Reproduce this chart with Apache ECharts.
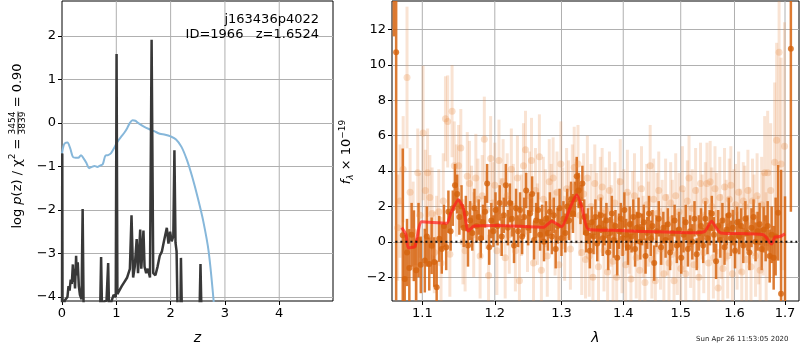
<!DOCTYPE html>
<html>
<head>
<meta charset="utf-8">
<script src="https://cdn.jsdelivr.net/npm/echarts@6/dist/echarts.min.js"></script>
<style>
  html, body { margin: 0; padding: 0; background: #fff; }
  #main { width: 800px; height: 350px; }
</style>
</head>
<body>
<div id="main"></div>
<script>
// p(z) panel
var zBlue = [0.0,0.03,0.06,0.1,0.15,0.2,0.25,0.3,0.35,0.4,0.45,0.5,0.55,0.6,0.65,0.7,0.75,0.8,0.85,0.9,0.95,1.0,1.05,1.1,1.15,1.2,1.25,1.3,1.35,1.4,1.5,1.6,1.7,1.8,1.9,2.0,2.1,2.2,2.3,2.4,2.5,2.6,2.7,2.8];
var lnpBlue = [-0.70,-0.52,-0.46,-0.45,-0.58,-0.78,-0.80,-0.80,-0.74,-0.82,-0.92,-1.04,-1.01,-0.99,-1.01,-0.98,-0.95,-0.75,-0.74,-0.70,-0.60,-0.48,-0.38,-0.30,-0.22,-0.12,0.0,0.06,0.05,0.0,-0.08,-0.14,-0.19,-0.25,-0.27,-0.31,-0.38,-0.55,-0.85,-1.25,-1.72,-2.25,-2.95,-4.2];

var zDark = [0.00,0.005,0.01,0.05,0.10,0.12,0.14,0.16,0.18,0.20,0.21,0.22,0.24,0.26,0.27,0.29,0.31,0.33,0.36,0.38,0.40,0.70,0.72,0.74,0.78,0.82,0.85,0.87,0.91,0.95,0.99,1.005,1.02,1.05,1.10,1.15,1.20,1.25,1.28,1.31,1.34,1.375,1.40,1.44,1.46,1.50,1.52,1.55,1.58,1.62,1.65,1.68,1.72,1.76,1.80,1.84,1.88,1.93,1.96,1.99,2.02,2.05,2.07,2.09,2.11,2.13,2.18,2.19,2.21,2.53,2.55,2.57];
var lnpDark = [-4.5,-0.70,-4.5,-4.08,-4.0,-3.75,-3.85,-3.60,-3.70,-3.25,-3.65,-3.35,-3.80,-3.05,-3.50,-3.20,-3.75,-3.95,-4.05,-1.98,-4.5,-4.5,-3.08,-4.5,-4.1,-4.08,-3.22,-4.5,-4.1,-3.95,-4.0,1.58,-3.93,-3.90,-3.75,-3.65,-3.55,-3.35,-2.12,-3.55,-3.30,-2.67,-3.45,-2.45,-3.35,-2.47,-3.30,-3.45,-3.35,-3.55,1.91,-3.45,-3.50,-3.30,-3.05,-2.95,-2.70,-2.41,-2.77,-2.50,-2.72,-2.60,-0.63,-2.75,-2.95,-4.5,-4.5,-3.10,-4.5,-4.5,-3.24,-4.5];

var zTicks = [0, 1, 2, 3, 4];
var lnpTicks = [-4, -3, -2, -1, 0, 1, 2];

// spectrum panel: wavelength (micron), flux (x 1e-19), error
var lamDark = [
    1.063,1.066,1.0745,1.077,1.080,1.083,1.086,1.089,1.092,1.095,
    1.098,1.1033,1.106,1.1092,1.1124,1.1159,1.1191,1.1226,1.126,1.129,
    1.132,1.135,1.138,1.141,1.144,1.147,1.150,1.153,1.156,1.159,
    1.162,1.165,1.168,1.171,1.174,1.177,1.180,1.183,1.186,1.189,
    1.192,1.195,1.198,1.201,1.204,1.207,1.210,1.213,1.216,1.219,
    1.222,1.225,1.228,1.231,1.234,1.237,1.240,1.243,1.246,1.249,
    1.252,1.255,1.258,1.261,1.264,1.267,1.270,1.273,1.276,1.279,
    1.282,1.285,1.288,1.291,1.294,1.297,1.300,1.303,1.306,1.309,
    1.312,1.315,1.318,1.321,1.324,1.327,1.330,1.333,1.336,1.339,
    1.342,1.345,1.348,1.351,1.354,1.357,1.360,1.363,1.366,1.369,
    1.372,1.375,1.378,1.381,1.384,1.387,1.390,1.393,1.396,1.399,
    1.402,1.405,1.408,1.411,1.414,1.417,1.420,1.423,1.426,1.429,
    1.432,1.435,1.438,1.441,1.444,1.447,1.450,1.453,1.457,1.461,
    1.465,1.469,1.473,1.477,1.481,1.485,1.489,1.493,1.497,1.501,
    1.505,1.509,1.513,1.517,1.521,1.525,1.529,1.533,1.537,1.541,
    1.545,1.549,1.553,1.557,1.561,1.565,1.569,1.573,1.577,1.581,
    1.585,1.589,1.593,1.597,1.601,1.605,1.609,1.613,1.617,1.621,
    1.625,1.629,1.633,1.637,1.641,1.645,1.649,1.653,1.657,1.661,
    1.665,1.669,1.673,1.677,1.681,1.686,1.692,1.700,1.712];
var fluxDark = [
    16.0,10.7,0.37,-2.1,-0.6,-1.48,0.4,-0.22,-1.6,0.1,
    -1.3,-1.06,0.3,-1.25,-0.22,-1.14,-2.56,0.17,-0.4,0.9,
    -0.3,1.7,0.6,1.9,3.2,2.7,1.4,2.0,0.8,1.6,
    -0.2,1.2,0.5,1.9,0.9,1.4,0.2,1.1,1.7,3.3,
    -0.3,1.2,0.6,1.8,0.9,2.2,0.3,1.5,3.2,0.8,
    2.2,1.3,-0.2,1.9,0.6,1.8,0.3,1.4,2.9,0.8,
    1.6,2.7,0.1,1.2,1.8,0.4,1.1,0.0,1.3,0.5,
    1.7,0.3,1.5,-0.4,0.9,1.9,0.2,1.3,0.5,2.0,
    1.2,2.4,1.6,2.4,3.7,2.9,2.1,3.3,1.4,0.5,
    0.9,-0.5,1.1,0.3,1.4,-0.1,0.8,1.5,0.2,0.7,
    1.2,-0.6,0.5,1.6,0.1,0.9,-0.9,0.6,1.3,0.2,
    1.8,0.4,-0.3,1.0,0.3,1.4,-0.4,0.8,1.5,0.0,
    0.7,1.1,-0.8,0.5,1.6,0.2,0.9,-1.2,0.6,1.3,
    -0.3,0.8,0.1,1.0,-0.6,0.5,1.2,-0.2,0.7,-0.9,
    0.4,1.1,-0.4,0.6,0.0,1.3,-0.7,0.5,0.9,-0.2,
    1.3,0.2,0.8,1.6,0.4,-1.1,0.9,0.1,1.2,-0.3,
    0.7,1.5,0.2,0.8,-0.5,1.1,0.3,0.9,-0.2,1.3,
    0.5,-0.6,0.8,1.4,0.0,0.6,1.0,-0.4,0.7,0.2,
    0.9,-0.8,0.4,-0.9,0.3,1.64,-2.93,-4.0,10.9];
var errDark = [
    4.4,14.0,4.9,2.5,1.9,2.2,1.8,2.0,1.7,2.1,
    1.6,1.8,1.7,1.5,1.6,1.4,1.5,1.3,1.4,1.2,
    1.3,1.2,1.1,1.0,1.2,1.1,1.0,1.2,1.1,1.0,
    1.2,1.1,1.0,1.1,0.9,1.0,1.1,1.0,0.9,1.1,
    1.0,1.0,0.9,1.0,1.1,1.0,1.1,1.0,1.2,1.0,
    1.1,1.0,1.0,1.1,0.9,1.0,1.0,1.1,1.0,1.0,
    1.1,1.0,1.1,1.0,1.0,0.9,1.0,1.1,1.0,1.0,
    1.1,1.0,1.0,1.1,1.0,1.1,1.0,1.0,1.1,1.0,
    1.1,1.0,1.1,1.0,1.1,1.0,1.1,1.0,1.0,1.1,
    1.0,1.0,0.9,1.0,1.0,1.0,0.9,1.0,1.0,0.9,
    1.0,1.0,0.9,1.0,1.0,0.9,1.0,1.0,0.9,1.0,
    1.0,0.9,1.0,1.0,0.9,1.0,1.0,0.9,1.0,1.0,
    0.9,1.0,1.0,0.9,1.0,1.0,0.9,1.0,0.9,1.0,
    1.0,0.9,1.0,0.9,1.0,1.0,0.9,1.0,1.0,0.9,
    1.0,1.0,1.0,0.9,1.0,1.0,0.9,1.0,1.0,1.0,
    1.0,0.9,1.0,1.0,1.0,1.0,0.9,1.0,1.0,1.0,
    0.9,1.0,1.0,1.0,1.0,0.9,1.0,1.0,1.0,1.0,
    1.0,1.0,1.1,1.0,1.1,1.1,1.2,1.2,1.3,1.3,
    1.4,1.5,1.6,1.8,2.2,2.7,7.0,6.57,9.2];

var lamLight = [
    1.068,1.071,1.075,1.080,1.084,1.088,1.091,1.094,1.097,1.101,
    1.104,1.107,1.110,1.113,1.116,1.119,1.122,1.125,1.128,1.131,
    1.134,1.137,1.140,1.143,1.146,1.149,1.152,1.155,1.158,1.161,
    1.164,1.167,1.170,1.173,1.176,1.179,1.182,1.185,1.188,1.191,
    1.194,1.197,1.200,1.203,1.206,1.209,1.212,1.215,1.218,1.221,
    1.224,1.227,1.230,1.233,1.236,1.239,1.242,1.245,1.248,1.251,
    1.254,1.257,1.260,1.263,1.266,1.269,1.272,1.275,1.278,1.281,
    1.284,1.287,1.290,1.293,1.296,1.299,1.302,1.305,1.308,1.311,
    1.314,1.317,1.320,1.323,1.326,1.329,1.332,1.335,1.338,1.341,
    1.344,1.347,1.350,1.353,1.356,1.359,1.362,1.365,1.368,1.371,
    1.374,1.377,1.380,1.383,1.386,1.389,1.392,1.395,1.398,1.401,
    1.404,1.407,1.410,1.413,1.416,1.419,1.422,1.425,1.428,1.431,
    1.434,1.437,1.440,1.443,1.446,1.449,1.452,1.455,1.458,1.461,
    1.464,1.467,1.470,1.473,1.476,1.479,1.482,1.485,1.488,1.491,
    1.494,1.497,1.500,1.503,1.506,1.509,1.512,1.515,1.518,1.521,
    1.524,1.527,1.530,1.533,1.536,1.539,1.542,1.545,1.548,1.551,
    1.554,1.557,1.560,1.563,1.566,1.569,1.572,1.575,1.578,1.581,
    1.584,1.587,1.590,1.593,1.596,1.599,1.602,1.605,1.608,1.611,
    1.614,1.617,1.620,1.623,1.626,1.629,1.632,1.635,1.638,1.641,
    1.644,1.647,1.650,1.653,1.656,1.659,1.662,1.665,1.671,1.679,
    1.683,1.688,1.692,1.699];
var fluxLight = [
    0.8,2.3,4.1,9.28,2.8,0.6,-1.5,3.9,1.5,6.15,
    2.9,3.9,2.5,1.6,-0.6,0.1,1.7,-1.2,2.3,6.95,
    6.8,-0.7,7.38,4.3,2.9,4.3,5.3,0.0,-0.5,3.7,
    3.3,2.0,0.4,3.6,2.4,-0.8,2.6,5.8,1.8,-1.9,
    4.7,2.2,3.2,-0.5,4.6,1.4,3.4,-0.9,2.6,0.4,
    4.1,2.0,-0.5,3.6,-2.2,1.5,4.3,5.2,0.6,2.6,
    4.6,-1.2,2.9,1.0,4.8,-1.6,2.4,1.9,-0.8,3.4,
    2.2,3.6,0.5,2.8,-1.3,4.4,1.9,0.2,3.0,2.4,
    -0.4,3.1,4.2,2.3,4.4,1.5,-0.6,2.7,-1.0,3.6,
    -0.8,2.0,-2.0,3.3,1.6,-1.4,2.5,3.1,-0.5,1.8,
    -1.7,2.9,0.9,-1.1,2.2,-2.0,1.3,3.4,-0.6,1.9,
    -1.3,2.8,0.5,-2.1,1.7,2.6,-0.9,1.2,-1.6,3.0,
    0.3,-2.3,2.1,1.0,4.3,-1.0,2.4,-2.2,1.6,2.9,
    -0.4,1.1,-1.8,2.5,0.4,-1.2,2.2,1.3,-2.2,2.6,
    -0.7,1.7,-1.5,3.0,0.6,-1.8,2.3,3.6,-0.3,1.9,
    -1.3,2.9,0.8,-2.0,3.3,1.4,-0.6,2.3,3.3,-1.2,
    3.4,2.0,-0.9,3.0,1.6,-2.6,2.5,0.3,-1.5,3.1,
    1.2,-0.8,2.4,3.2,-1.8,1.7,2.1,-0.5,2.8,0.6,
    -1.7,2.3,2.0,-1.0,2.9,0.9,-1.4,2.3,1.5,-0.8,
    2.6,0.1,-1.6,2.1,1.0,3.9,-0.4,3.9,2.9,4.5,
    5.74,10.7,4.4,5.4];
var errLight = [
    3.0,3.2,3.0,4.0,2.5,2.8,2.2,2.5,2.4,3.8,
    2.3,2.5,2.4,2.6,2.3,2.5,2.4,2.6,2.7,2.4,
    2.6,2.4,2.6,2.5,2.6,2.3,2.2,2.4,2.3,2.5,
    2.4,2.3,2.4,2.5,2.3,2.4,2.3,2.4,2.2,2.3,
    2.4,2.3,2.4,2.5,2.3,2.2,2.4,2.3,2.4,2.2,
    2.3,2.4,2.3,2.4,2.5,2.3,2.4,2.2,2.3,2.5,
    2.4,2.3,2.4,2.3,2.4,2.3,2.4,2.2,2.3,2.4,
    2.2,2.3,2.4,2.3,2.2,2.4,2.3,2.4,2.3,2.2,
    2.3,2.4,2.3,2.4,2.2,2.3,2.4,2.3,2.2,2.4,
    2.3,2.4,2.3,2.2,2.3,2.4,2.3,2.2,2.3,2.4,
    2.3,2.2,2.3,2.4,2.3,2.2,2.3,2.4,2.3,2.2,
    2.3,2.4,2.3,2.2,2.3,2.4,2.3,2.2,2.3,2.4,
    2.3,2.2,2.3,2.4,2.3,2.2,2.3,2.4,2.3,2.2,
    2.3,2.4,2.3,2.2,2.3,2.4,2.3,2.2,2.3,2.4,
    2.3,2.2,2.3,2.4,2.3,2.2,2.3,2.4,2.3,2.2,
    2.3,2.4,2.3,2.2,2.3,2.4,2.3,2.2,2.3,2.4,
    2.3,2.2,2.3,2.4,2.3,2.2,2.3,2.4,2.3,2.2,
    2.3,2.4,2.3,2.2,2.3,2.4,2.3,2.2,2.3,2.4,
    2.3,2.2,2.3,2.4,2.3,2.2,2.3,2.4,2.3,2.3,
    2.4,2.5,2.6,2.7,2.9,3.2,3.2,3.5,3.8,4.5,
    5.5,6.5,6.0,7.0];

var lamModel = [1.0731,1.0787,1.0817,1.0904,1.0993,1.1327,1.1381,1.1486,1.1555,1.1624,1.1705,1.2027,1.2719,1.2848,1.3003,1.3133,1.3239,1.3319,1.3425,1.3835,1.5290,1.5443,1.5568,1.5661,1.5737,1.6562,1.6730,1.6797,1.6898,1.7000];
var fluxModel = [0.8,0.4,-0.35,-0.25,1.13,1.05,1.6,2.38,1.9,0.61,0.9,0.93,0.82,1.17,0.85,1.9,2.66,2.0,0.7,0.65,0.52,0.6,1.17,0.75,0.5,0.4,-0.12,0.28,0.3,0.45];

var lamTicks = [1.1, 1.2, 1.3, 1.4, 1.5, 1.6, 1.7];
var fluxTicks = [-2, 0, 2, 4, 6, 8, 10, 12];
var lamZero = [1.065, 1.725];

var FONT = 'DejaVu Sans';

function minus(v) { return String(v).replace('-', '\u2212'); }

function textWidth(s, font) {
    var ctx = document.createElement('canvas').getContext('2d');
    ctx.font = font;
    return ctx.measureText(s).width;
}

// rotated y label with the stacked chi2 fraction
function pzLabel() {
    var big = '13px "' + FONT + '"', ital = 'italic 13px "' + FONT + '"', small = '9px "' + FONT + '"';
    var parts = [
        { t: 'log ', f: big, dy: 0 },
        { t: 'p', f: ital, dy: 0 },
        { t: '(z) / χ', f: big, dy: 0 },
        { t: '2', f: small, dy: -5 },
        { t: ' = ', f: big, dy: 0 },
        { frac: true },
        { t: ' = 0.90', f: big, dy: 0 }
    ];
    var children = [], x = 0;
    parts.forEach(function (p) {
        if (p.frac) {
            var w = textWidth('3454', small);
            children.push({ type: 'text', x: x + w / 2, y: -5, style: { text: '3454', font: small, fill: '#000', align: 'center', verticalAlign: 'middle' } });
            children.push({ type: 'line', shape: { x1: x, y1: 0, x2: x + w, y2: 0 }, style: { stroke: '#000', lineWidth: 0.8 } });
            children.push({ type: 'text', x: x + w / 2, y: 5, style: { text: '3839', font: small, fill: '#000', align: 'center', verticalAlign: 'middle' } });
            x += w;
        } else {
            children.push({ type: 'text', x: x, y: p.dy, style: { text: p.t, font: p.f, fill: '#000', align: 'left', verticalAlign: 'middle' } });
            x += textWidth(p.t, p.f);
        }
    });
    return { type: 'group', x: 18, y: 146 + x / 2, rotation: Math.PI / 2, z: 100, children: children };
}

// vertical grid line at each x tick, spanning the whole grid
function vGridLine(params, api) {
    var p = api.coord([api.value(0), api.value(1)]);
    var cs = params.coordSys;
    return {
        type: 'line', silent: true,
        shape: { x1: p[0], y1: cs.y, x2: p[0], y2: cs.y + cs.height },
        style: { stroke: '#b0b0b0', lineWidth: 1 }
    };
}

function errBars(width, color) {
    return function (params, api) {
        var x = api.value(0), y = api.value(1), e = api.value(2);
        var p1 = api.coord([x, y + e]);
        var p2 = api.coord([x, y - e]);
        var cs = params.coordSys;
        var shape = echarts.graphic.clipRectByRect(
            { x: p1[0] - width / 2, y: p1[1], width: width, height: p2[1] - p1[1] },
            { x: cs.x, y: cs.y, width: cs.width, height: cs.height });
        return shape && { type: 'rect', shape: shape, style: { fill: color } };
    };
}

function drawChart() {
    var myChart = echarts.init(document.getElementById('main'));

    var ln = function (l) { return Math.log(l); };
    var darkData = lamDark.map(function (l, i) { return [ln(l), fluxDark[i], errDark[i]]; });
    var lightData = lamLight.map(function (l, i) { return [ln(l), fluxLight[i], errLight[i]]; });
    var modelData = lamModel.map(function (l, i) { return [ln(l), fluxModel[i]]; });

    var axisText = { fontFamily: FONT, fontSize: 13, color: '#000' };
    var gridLine = { show: true, lineStyle: { color: '#b0b0b0', width: 1 } };
    var tick = { show: true, inside: false, length: 4, lineStyle: { color: '#000' } };
    var noLine = { show: false, onZero: false };

    option = {
        animation: false,
        backgroundColor: '#fff',
        textStyle: { fontFamily: FONT },
        grid: [
            { left: 62, top: 1, width: 271, height: 303, show: true, borderColor: '#000', borderWidth: 1, backgroundColor: 'transparent' },
            { left: 392, top: 1, width: 407, height: 303, show: true, borderColor: '#000', borderWidth: 1, backgroundColor: 'transparent' }
        ],
        xAxis: [
            {
                type: 'value', gridIndex: 0, min: 0, max: 4.99,
                axisLine: noLine,
                axisTick: Object.assign({ customValues: zTicks }, tick),
                axisLabel: Object.assign({ customValues: zTicks, margin: 6 }, axisText),
                splitLine: { show: false },
                name: 'z', nameLocation: 'middle', nameGap: 30,
                nameTextStyle: { fontFamily: FONT, fontSize: 14, fontStyle: 'italic', color: '#000' }
            },
            {
                type: 'value', gridIndex: 1, min: ln(1.0607), max: ln(1.7288),
                axisLine: noLine,
                axisTick: Object.assign({ customValues: lamTicks.map(ln) }, tick),
                axisLabel: Object.assign({
                    customValues: lamTicks.map(ln), margin: 6,
                    formatter: function (v) { return Math.exp(v).toFixed(1); }
                }, axisText),
                splitLine: { show: false },
                name: 'λ', nameLocation: 'middle', nameGap: 30,
                nameTextStyle: { fontFamily: FONT, fontSize: 14, fontStyle: 'italic', color: '#000' }
            }
        ],
        yAxis: [
            {
                type: 'value', gridIndex: 0, min: -4.09, max: 2.8,
                axisLine: noLine,
                axisTick: Object.assign({ customValues: lnpTicks }, tick),
                axisLabel: Object.assign({ customValues: lnpTicks, margin: 6, formatter: minus }, axisText),
                splitLine: gridLine
            },
            {
                type: 'value', gridIndex: 1, min: -3.34, max: 13.6,
                axisLine: noLine,
                axisTick: Object.assign({ customValues: fluxTicks }, tick),
                axisLabel: Object.assign({ customValues: fluxTicks, margin: 6, formatter: minus }, axisText),
                splitLine: gridLine
            }
        ],
        graphic: [
            {
                type: 'text', x: 319, y: 20, z: 100,
                style: { text: 'j163436p4022', font: '13px "' + FONT + '"', fill: '#000', align: 'right', verticalAlign: 'middle' }
            },
            {
                type: 'text', x: 319, y: 35, z: 100,
                style: { text: 'ID=1966   z=1.6524', font: '13px "' + FONT + '"', fill: '#000', align: 'right', verticalAlign: 'middle' }
            },
            pzLabel(),
            {
                type: 'text', x: 347, y: 152, rotation: Math.PI / 2, z: 100,
                style: {
                    text: '{i|f}{sub|λ} × 10{sup|−19}',
                    rich: {
                        i: { fontStyle: 'italic', fontSize: 13, fontFamily: FONT },
                        sub: { fontSize: 9, fontFamily: FONT, fontStyle: 'italic', padding: [8, 0, 0, 0] },
                        sup: { fontSize: 9, fontFamily: FONT, padding: [0, 0, 8, 0] }
                    },
                    font: '13px "' + FONT + '"', fill: '#000', align: 'center', verticalAlign: 'middle'
                }
            },
            {
                type: 'text', x: 696, y: 336, z: 100,
                style: { text: 'Sun Apr 26 11:53:05 2020', font: '7px "' + FONT + '"', fill: '#222' }
            }
        ],
        series: [
            {
                type: 'custom', xAxisIndex: 0, yAxisIndex: 0, silent: true,
                renderItem: vGridLine, encode: { x: 0, y: 1 },
                data: zTicks.slice(1).map(function (v) { return [v, 0]; })
            },
            {
                type: 'custom', xAxisIndex: 1, yAxisIndex: 1, silent: true,
                renderItem: vGridLine, encode: { x: 0, y: 1 },
                data: lamTicks.map(function (l) { return [ln(l), 0]; })
            },
            {
                type: 'line', xAxisIndex: 0, yAxisIndex: 0, clip: true,
                data: zBlue.map(function (z, i) { return [z, lnpBlue[i]]; }),
                showSymbol: false, smooth: 0.3,
                lineStyle: { color: '#86b7da', width: 2 }
            },
            {
                type: 'line', xAxisIndex: 0, yAxisIndex: 0, clip: true,
                data: zDark.map(function (z, i) { return [z, lnpDark[i]]; }),
                showSymbol: false,
                lineStyle: { color: '#383838', width: 2.5 }
            },
            {
                type: 'custom', xAxisIndex: 1, yAxisIndex: 1, clip: true,
                renderItem: errBars(3, 'rgba(232,140,70,0.24)'),
                encode: { x: 0, y: 1 }, data: lightData
            },
            {
                type: 'scatter', xAxisIndex: 1, yAxisIndex: 1, clip: true,
                data: lightData, symbolSize: 7,
                itemStyle: { color: 'rgba(232,140,70,0.35)' }
            },
            {
                type: 'custom', xAxisIndex: 1, yAxisIndex: 1, clip: true,
                renderItem: errBars(2.5, 'rgba(214,100,15,0.85)'),
                encode: { x: 0, y: 1 }, data: darkData
            },
            {
                type: 'scatter', xAxisIndex: 1, yAxisIndex: 1, clip: true,
                data: darkData, symbolSize: 6,
                itemStyle: { color: '#d4630c' }
            },
            {
                type: 'line', xAxisIndex: 1, yAxisIndex: 1, clip: true,
                data: modelData, showSymbol: false, smooth: 0.2,
                lineStyle: { color: 'rgba(255,30,30,0.7)', width: 3 }
            },
            {
                type: 'line', xAxisIndex: 1, yAxisIndex: 1, clip: true,
                data: lamZero.map(function (l) { return [ln(l), 0]; }), showSymbol: false,
                lineStyle: { color: '#111', width: 2, type: [2, 3] }
            }
        ]
    };

    myChart.setOption(option);
}

drawChart();
</script>
</body>
</html>
